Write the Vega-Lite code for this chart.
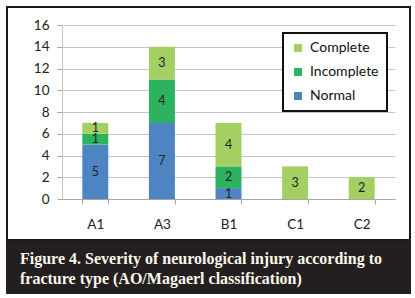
{
  "$schema": "https://vega.github.io/schema/vega-lite/v6.json",
  "background": "white",
  "padding": {"left": 6, "top": 6, "right": 3, "bottom": 5},
  "spacing": 0,
  "config": {"font": "Lato"},
  "vconcat": [
    {
      "width": 403,
      "height": 233,
      "view": {"stroke": "#1a1a1a", "strokeWidth": 2, "fill": "white"},
      "data": {
        "values": [
          {"type": "A1", "status": "Normal", "order": 1, "count": 5},
          {"type": "A1", "status": "Incomplete", "order": 2, "count": 1},
          {"type": "A1", "status": "Complete", "order": 3, "count": 1},
          {"type": "A3", "status": "Normal", "order": 1, "count": 7},
          {"type": "A3", "status": "Incomplete", "order": 2, "count": 4},
          {"type": "A3", "status": "Complete", "order": 3, "count": 3},
          {"type": "B1", "status": "Normal", "order": 1, "count": 1},
          {"type": "B1", "status": "Incomplete", "order": 2, "count": 2},
          {"type": "B1", "status": "Complete", "order": 3, "count": 4},
          {"type": "C1", "status": "Complete", "order": 3, "count": 3},
          {"type": "C2", "status": "Complete", "order": 3, "count": 2}
        ]
      },
      "transform": [
        {"stack": "count", "groupby": ["type"], "sort": [{"field": "order"}], "as": ["y0", "y1"]},
        {"calculate": "(datum.y0 + datum.y1) / 2", "as": "ymid"}
      ],
      "encoding": {
        "x": {
          "field": "type",
          "type": "nominal",
          "sort": ["A1", "A3", "B1", "C1", "C2"],
          "scale": {"range": [55, 388], "paddingInner": 0.61, "paddingOuter": 0.305},
          "axis": {
            "title": null,
            "offset": -41,
            "labelAngle": 0,
            "tickBand": "extent",
            "tickSize": 5,
            "tickColor": "#a6a6a6",
            "domainColor": "#a6a6a6",
            "labelFontSize": 13.5,
            "labelColor": "#222222",
            "labelPadding": 13,
            "grid": false
          }
        },
        "y": {
          "field": "y1",
          "type": "quantitative",
          "scale": {"domain": [0, 16], "range": [192, 18], "nice": false},
          "axis": {
            "title": null,
            "offset": -55,
            "values": [0, 2, 4, 6, 8, 10, 12, 14, 16],
            "labelOverlap": false,
            "grid": true,
            "gridColor": "#c4c4c4",
            "domainColor": "#c4c4c4",
            "tickColor": "#a6a6a6",
            "tickSize": 5,
            "labelFontSize": 13.5,
            "labelColor": "#222222",
            "labelPadding": 8
          }
        }
      },
      "layer": [
        {
          "mark": {"type": "bar"},
          "encoding": {
            "y2": {"field": "y0"},
            "color": {
              "field": "status",
              "type": "nominal",
              "scale": {"domain": ["Complete", "Incomplete", "Normal"], "range": ["#a3cf63", "#2db35f", "#4f84c2"]},
              "legend": {
                "title": null,
                "orient": "none",
                "legendX": 276,
                "legendY": 26,
                "symbolType": "square",
                "symbolSize": 64,
                "symbolStrokeWidth": 0,
                "labelFontSize": 14,
                "labelColor": "#111111",
                "labelOffset": 5,
                "padding": 8,
                "rowPadding": 10,
                "strokeColor": "#111111",
                "fillColor": "white",
                "encode": {"legend": {"update": {"strokeWidth": {"value": 2}}}}
              }
            }
          }
        },
        {
          "mark": {"type": "text", "fontSize": 12.5, "color": "#222222"},
          "encoding": {
            "y": {"field": "ymid", "type": "quantitative"},
            "text": {"field": "count", "type": "quantitative"}
          }
        }
      ]
    },
    {
      "width": 403,
      "height": 51,
      "view": {"stroke": "#231f20", "strokeWidth": 2, "fill": "#231f20"},
      "data": {"values": [{"caption": "Figure 4. Severity of neurological injury according to\nfracture type (AO/Magaerl classification)"}]},
      "mark": {
        "type": "text",
        "align": "left",
        "baseline": "middle",
        "lineBreak": "\n",
        "lineHeight": 20,
        "dx": -188.5,
        "dy": -9,
        "font": "Liberation Serif",
        "fontSize": 16,
        "fontWeight": "bold",
        "color": "#fbf6ea"
      },
      "encoding": {"text": {"field": "caption", "type": "nominal"}}
    }
  ]
}
